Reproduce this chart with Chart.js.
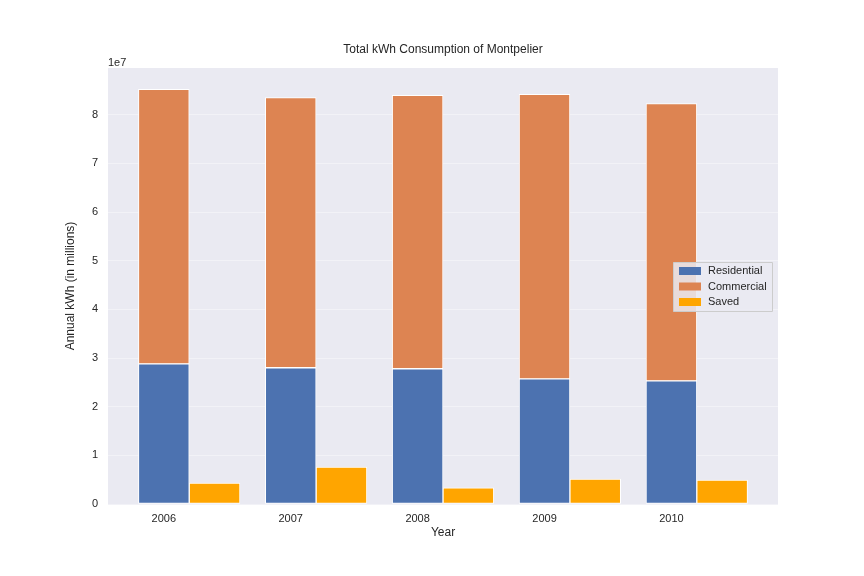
<!DOCTYPE html>
<html><head><meta charset="utf-8">
<script src="https://cdn.jsdelivr.net/npm/chart.js@4/dist/chart.umd.min.js"></script>
<style>html,body{margin:0;padding:0;background:#fff}#w{width:864px;height:576px}</style>
</head><body><div id="w"><canvas id="c"></canvas></div>
<script>
const years = ["2006","2007","2008","2009","2010"];
const residential = [2.88e7, 2.80e7, 2.78e7, 2.57e7, 2.53e7];
const commercial = [5.64e7, 5.55e7, 5.62e7, 5.85e7, 5.70e7];
const saved = [0.43e7, 0.76e7, 0.33e7, 0.51e7, 0.49e7];
const yTicks = [0,1,2,3,4,5,6,7,8];
const FONT = "'Liberation Sans', Arial, sans-serif";
const pts = (arr, off) => arr.map((v,i)=>({x:i+off,y:v}));

const deco = {
  id:'deco',
  beforeDraw(c){
    const a=c.chartArea, x=c.ctx;
    x.save(); x.fillStyle='#EAEAF2'; x.fillRect(a.left,a.top,a.right-a.left,a.bottom-a.top); x.restore();
  },
  afterDraw(c){
    const a=c.chartArea, x=c.ctx;
    x.save();
    x.fillStyle='#262626'; x.font='12px '+FONT; x.textAlign='center'; x.textBaseline='alphabetic';
    x.fillText('Total kWh Consumption of Montpelier',(a.left+a.right)/2,53);
    x.fillText('Year',(a.left+a.right)/2,536);
    x.save(); x.translate(74,(a.top+a.bottom)/2); x.rotate(-Math.PI/2);
    x.fillText('Annual kWh (in millions)',0,0); x.restore();
    x.font='11px '+FONT; x.textAlign='left';
    x.fillText('1e7',a.left,66);
    // legend
    const lx=673, ly=262, lw=99, lh=49;
    x.fillStyle='rgba(234,234,242,0.85)'; x.strokeStyle='#cccccc'; x.lineWidth=1;
    x.beginPath(); x.rect(lx+0.5,ly+0.5,lw,lh); x.fill(); x.stroke();
    x.font='11px '+FONT; x.textBaseline='middle';
    c.data.datasets.forEach((d,i)=>{
      const yy=ly+9+i*15.5;
      x.fillStyle=d.backgroundColor; x.fillRect(lx+6,yy-4,22,8);
      x.fillStyle='#262626'; x.fillText(d.label,lx+35,yy);
    });
    x.restore();
  }
};

new Chart(document.getElementById('c'),{
  type:'bar',
  data:{datasets:[
    {label:'Residential',data:pts(residential,0),backgroundColor:'#4C72B0',stack:'a'},
    {label:'Commercial',data:pts(commercial,0),backgroundColor:'#DD8452',stack:'a'},
    {label:'Saved',data:pts(saved,0.4),backgroundColor:'#FFA500',stack:'b'}
  ]},
  options:{
    responsive:true, maintainAspectRatio:false, animation:false,
    layout:{padding:{left:0,right:86,top:68,bottom:0}},
    datasets:{bar:{grouped:false,barPercentage:1,categoryPercentage:1,borderColor:'#ffffff',borderWidth:1,borderSkipped:false}},
    plugins:{legend:{display:false},title:{display:false},tooltip:{enabled:false}},
    scales:{
      x:{type:'linear',min:-0.44,max:4.84,stacked:false,offset:false,
        afterBuildTicks(s){s.ticks=years.map((y,i)=>({value:i}));},
        afterFit(s){s.height=72;},
        ticks:{callback:(v)=>years[v],color:'#262626',font:{family:FONT,size:11},padding:8,maxRotation:0,autoSkip:false},
        grid:{display:false,drawTicks:false},border:{display:false}
      },
      y:{type:'linear',min:0,max:8.96e7,stacked:true,
        afterBuildTicks(s){s.ticks=yTicks.map(v=>({value:v*1e7}));},
        afterFit(s){s.width=108;},
        ticks:{callback:(v)=>String(Math.round(v/1e7)),color:'#262626',font:{family:FONT,size:11},padding:10},
        grid:{color:'#F2F2F7',lineWidth:1,drawTicks:false},border:{display:false}
      }
    }
  },
  plugins:[deco]
});
</script></body></html>
